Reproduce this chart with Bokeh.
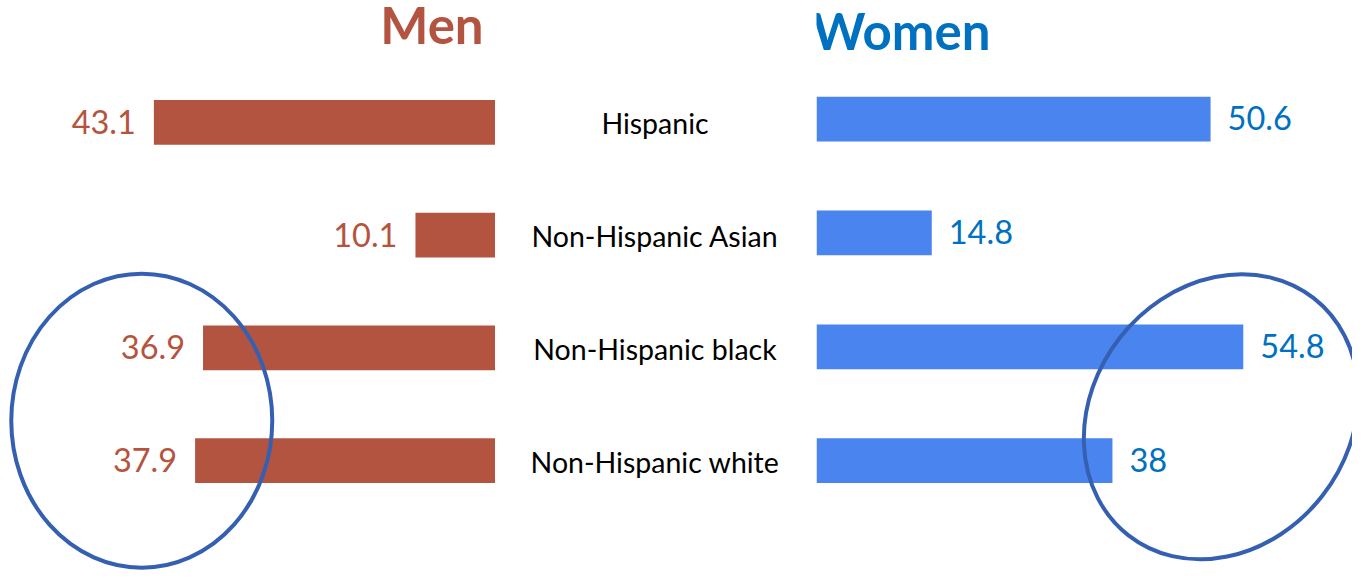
from bokeh.plotting import figure
from bokeh.layouts import row
from bokeh.models import Range1d, ColumnDataSource
from bokeh.embed import file_html
from bokeh.resources import INLINE
from bokeh.core.properties import value

# ---- data ----
categories = ["Hispanic", "Non-Hispanic Asian", "Non-Hispanic black", "Non-Hispanic white"]
men = [43.1, 10.1, 36.9, 37.9]
women = [50.6, 14.8, 54.8, 38.0]
title_men = "Men"
title_women = "Women"

# ---- styles ----
MEN_BAR = "#B35440"
MEN_TXT = "#B5533D"
WOMEN_BAR = "#4A84EF"
WOMEN_TXT = "#0070C0"
RING = "#3560B2"
FONT = value("Lato")
H = 570

idx = list(range(len(categories)))
men_src = ColumnDataSource(dict(y=idx, v=men, lab=[f"{v:g}" for v in men]))
women_src = ColumnDataSource(dict(y=idx, v=women, lab=[f"{v:g}" for v in women]))
cat_src = ColumnDataSource(dict(y=idx, lab=categories))

men_y = Range1d(start=3.974, end=-1.082)
women_y = Range1d(start=3.966, end=-1.043)


def make_fig(w, xr, yr):
    p = figure(width=w, height=H, x_range=xr, y_range=yr,
               output_backend="svg", toolbar_location=None,
               x_axis_location=None, y_axis_location=None,
               min_border=0, min_border_left=0, min_border_right=0,
               min_border_top=0, min_border_bottom=0,
               outline_line_color=None, background_fill_color="white",
               border_fill_color="white")
    p.xgrid.grid_line_color = None
    p.ygrid.grid_line_color = None
    return p


# ---- men (left, reversed axis) ----
LW = 495
pm = make_fig(LW, Range1d(start=LW / 7.926, end=0), men_y)
pm.hbar(y="y", left=0, right="v", height=0.397, source=men_src,
        fill_color=MEN_BAR, line_color=None)
pm.text(x="v", y="y", text="lab", source=men_src, text_align="right",
        text_baseline="alphabetic", x_offset=-18, y_offset=-0.5,
        text_font=FONT, text_font_size="32.5px", text_color=MEN_TXT)
pm.text(x=[8.02], y=[-0.711], text=[title_men], text_align="center",
        text_baseline="alphabetic", y_offset=-17.5, text_font=FONT,
        text_font_size="51px", text_font_style="bold", text_color=MEN_BAR)
pm.ellipse(x=[44.63], y=[2.645], width=[261], height=[294],
           width_units="screen", height_units="screen",
           fill_color=None, line_color=RING, line_width=4)

# ---- category labels (middle) ----
MW = 321
pc = make_fig(MW, Range1d(0, 1), men_y)
pc.text(x=0.5, y="y", text="lab", source=cat_src, text_align="center",
        text_baseline="alphabetic", x_offset=-1, y_offset=1,
        text_font=FONT, text_font_size="28.5px", text_color="#000000")

# ---- women (right) ----
RW = 536
pw = make_fig(RW, Range1d(0, RW / 7.788), women_y)
pw.hbar(y="y", left=0, right="v", height=0.393, source=women_src,
        fill_color=WOMEN_BAR, line_color=None)
pw.text(x="v", y="y", text="lab", source=women_src, text_align="left",
        text_baseline="alphabetic", x_offset=17, y_offset=-1,
        text_font=FONT, text_font_size="32.5px", text_color=WOMEN_TXT)
pw.text(x=[10.89], y=[-0.624], text=[title_women], text_align="center",
        text_baseline="alphabetic", y_offset=-17.5, text_font=FONT,
        text_font_size="51px", text_font_style="bold", text_color=WOMEN_TXT)
pw.ellipse(x=[51.95], y=[2.615], width=[257], height=[301], angle=-0.663,
           width_units="screen", height_units="screen",
           fill_color=None, line_color=RING, line_width=4)

layout = row(pm, pc, pw, spacing=0)
open("out.html", "w").write(file_html(layout, INLINE))
